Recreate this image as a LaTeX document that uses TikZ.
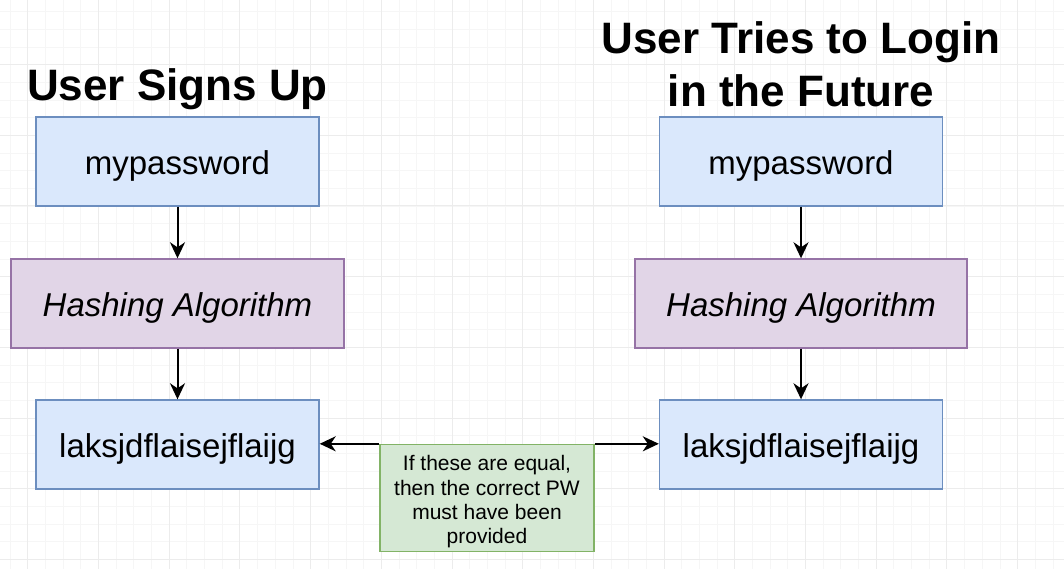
\documentclass[tikz,border=0pt]{standalone}
\usepackage{fontspec}
\setmainfont{Liberation Sans}
\usetikzlibrary{arrows.meta, positioning}

\definecolor{blueFill}{HTML}{DAE8FC}
\definecolor{blueLine}{HTML}{6C8EBF}
\definecolor{purpleFill}{HTML}{E1D5E7}
\definecolor{purpleLine}{HTML}{9673A6}
\definecolor{greenFill}{HTML}{D5E8D4}
\definecolor{greenLine}{HTML}{82B366}
\definecolor{gridMinor}{HTML}{F6F6F6}
\definecolor{gridMajor}{HTML}{ECECEC}

\tikzset{
  box/.style={draw, line width=1.4pt, inner sep=0pt, text=black, minimum height=89pt, text height=33pt, text depth=7pt, font=\fontsize{33}{40}\selectfont},
  bluebox/.style={box, fill=blueFill, draw=blueLine, minimum width=283pt},
  hashbox/.style={box, fill=purpleFill, draw=purpleLine, minimum width=333pt, font=\fontsize{33}{40}\selectfont\itshape},
  notebox/.style={draw, line width=1.4pt, inner sep=0pt, text=black, fill=greenFill, draw=greenLine, minimum width=214pt, minimum height=107pt, align=center, text height=96pt, font=\fontsize{21}{24.3}\selectfont},
  title/.style={inner sep=0pt, anchor=north, align=center, font=\fontsize{44}{52.5}\selectfont\bfseries},
  arrow/.style={-{Stealth[length=16pt, width=15pt, inset=5pt]}, line width=2pt, black}
}

\begin{document}
\begin{tikzpicture}[x=1pt, y=-1pt]
        \useasboundingbox (0, 0) rectangle (1064, 569);
        \fill[white] (0, 0) rectangle (1064, 569);

        % background grid
        \begin{scope}
          \clip (0, 0) rectangle (1064, 569);
          \foreach \i in {0,...,59}
            \draw[gridMinor, line width=0.8pt] ({10.1 + 17.675*\i}, 0) -- ++(0, 569);
          \foreach \i in {0,...,31}
            \draw[gridMinor, line width=0.8pt] (0, {11.6 + 17.675*\i}) -- ++(1064, 0);
          \foreach \i in {0,...,14}
            \draw[gridMajor, line width=1pt] ({27.8 + 70.7*\i}, 0) -- ++(0, 569);
          \foreach \i in {0,...,7}
            \draw[gridMajor, line width=1pt] (0, {64.6 + 70.7*\i}) -- ++(1064, 0);
        \end{scope}

        % titles
        \node[title] (signTitle) at (177.5, 68) {User Signs Up};
        \node[title] (loginTitle) at (801, 21.7) {User Tries to Login\\in the Future};

        % sign up column
        \node[bluebox] (signPw) at (177.5, 161.5) {mypassword};
        \node[hashbox] (signHash) at (177.5, 303.5) {Hashing Algorithm};
        \node[bluebox] (signHashed) at (177.5, 444.5) {laksjdflaisejflaijg};

        % login column
        \node[bluebox] (loginPw) at (801, 161.5) {mypassword};
        \node[hashbox, minimum width=332pt] (loginHash) at (801, 303.5) {Hashing Algorithm};
        \node[bluebox] (loginHashed) at (801, 444.5) {laksjdflaisejflaijg};

        \node[notebox] (note) at (487, 498) {If these are equal,\\then the correct PW\\must have been\\provided};

        \draw[arrow] (signPw) -- (signHash);
        \draw[arrow] (signHash) -- (signHashed);
        \draw[arrow] (loginPw) -- (loginHash);
        \draw[arrow] (loginHash) -- (loginHashed);

        \draw[arrow] (note.north west) -- (signHashed.east |- note.north west);
        \draw[arrow] (note.north east) -- (loginHashed.west |- note.north east);

      \end{tikzpicture}
\end{document}
